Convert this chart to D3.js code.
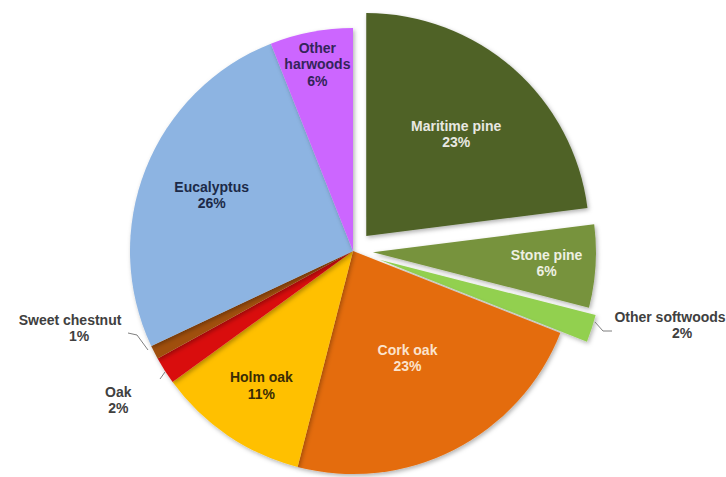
<!DOCTYPE html>
<html><head><meta charset="utf-8">
<script src="https://cdn.jsdelivr.net/npm/d3@7/dist/d3.min.js"></script>
<style>html,body{margin:0;padding:0;background:#fff;}svg{display:block;}</style>
</head><body>
<svg id="chart" width="726" height="477"></svg>
<script>
// ---- data ----
const categories = ["Maritime pine","Stone pine","Other softwoods","Cork oak","Holm oak","Oak","Sweet chestnut","Eucalyptus","Other harwoods"];
const values = [23, 6, 2, 23, 11, 2, 1, 26, 6];
const labelLines = [["Maritime pine"],["Stone pine"],["Other softwoods"],["Cork oak"],["Holm oak"],["Oak"],["Sweet chestnut"],["Eucalyptus"],["Other","harwoods"]];
const colors = ["#4f6228","#77933c","#92d050","#e46c0a","#ffc000","#d90f0f","#a0500f","#8db4e2","#cc66ff"];
const labelColors = ["#e8e8e2","#eef0e2","#404040","#fbe3cc","#3a2c05","#404040","#404040","#1c2a48","#34245a"];

// ---- layout ----
const W = 726, H = 477, cx = 353, cy = 251, R = 223;
const exploded = {"Maritime pine":20, "Stone pine":20, "Other softwoods":28};
// label placement: inside labels on slice bisector at given radius; outside ones given relative to centre
const labelRadius = {"Maritime pine":136, "Stone pine":174, "Cork oak":120, "Holm oak":163, "Eucalyptus":152, "Other harwoods":190, "Oak":278};
const outsideLabel = {
  "Sweet chestnut": {x:-283, y:77, anchor:"middle", pctDx:9},
  "Other softwoods": {x:317, y:74, anchor:"middle", pctDx:12}
};
const leaders = {
  "Sweet chestnut": [[-225,82],[-216,84],[-205,99]],
  "Other softwoods": [[242,71],[250,80],[259,80]],
  "Oak": [[-193,128],[-188,121]]
};

const svg = d3.select("#chart");
const defs = svg.append("defs");
const f = defs.append("filter").attr("id","sh").attr("x","-10%").attr("y","-10%").attr("width","130%").attr("height","130%");
f.append("feDropShadow").attr("dx",1.5).attr("dy",2).attr("stdDeviation",2).attr("flood-color","#000").attr("flood-opacity",0.3);

const g = svg.append("g").attr("transform",`translate(${cx},${cy})`);
const pie = d3.pie().sort(null).value(d => d.v).startAngle(0).endAngle(2*Math.PI);
const data = categories.map((c,i)=>({c, v:values[i], i}));
const arcs = pie(data);
const arc = d3.arc().innerRadius(0).outerRadius(R);

function offset(a){
  const d = exploded[a.data.c] || 0;
  const m = (a.startAngle + a.endAngle)/2;
  return [d*Math.sin(m), -d*Math.cos(m)];
}

g.selectAll("path.slice").data(arcs).join("path")
  .attr("class","slice")
  .attr("d", arc)
  .attr("fill", d => colors[d.data.i])
  .attr("filter","url(#sh)")
  .attr("transform", d => { const o = offset(d); return `translate(${o[0]},${o[1]})`; });

// leader lines
Object.keys(leaders).forEach(k => {
  g.append("path").attr("d", d3.line()(leaders[k])).attr("fill","none").attr("stroke","#7f7f7f").attr("stroke-width",1);
});

const fontSize = 14, lh = 16.5;
arcs.forEach(a => {
  const c = a.data.c, i = a.data.i;
  const pct = Math.round(a.data.v) + "%";
  let x, y, pctDx = 0, anchor = "middle";
  if (outsideLabel[c]) {
    x = outsideLabel[c].x; y = outsideLabel[c].y; pctDx = outsideLabel[c].pctDx; anchor = outsideLabel[c].anchor;
  } else {
    const m = (a.startAngle + a.endAngle)/2;
    const o = offset(a);
    const r = labelRadius[c];
    x = o[0] + r*Math.sin(m); y = o[1] - r*Math.cos(m);
  }
  const lines = labelLines[i].concat([pct]);
  const y0 = y - (lines.length-1)*lh/2;
  const t = g.append("text")
    .attr("font-family","'Liberation Sans', Arial, sans-serif")
    .attr("font-weight","bold")
    .attr("font-size", fontSize)
    .attr("fill", labelColors[i])
    .attr("text-anchor", anchor);
  lines.forEach((ln, j) => {
    t.append("tspan").attr("x", x + (j === lines.length-1 ? pctDx : 0)).attr("y", y0 + j*lh).attr("dy","0.35em").text(ln);
  });
});
</script>
</body></html>
